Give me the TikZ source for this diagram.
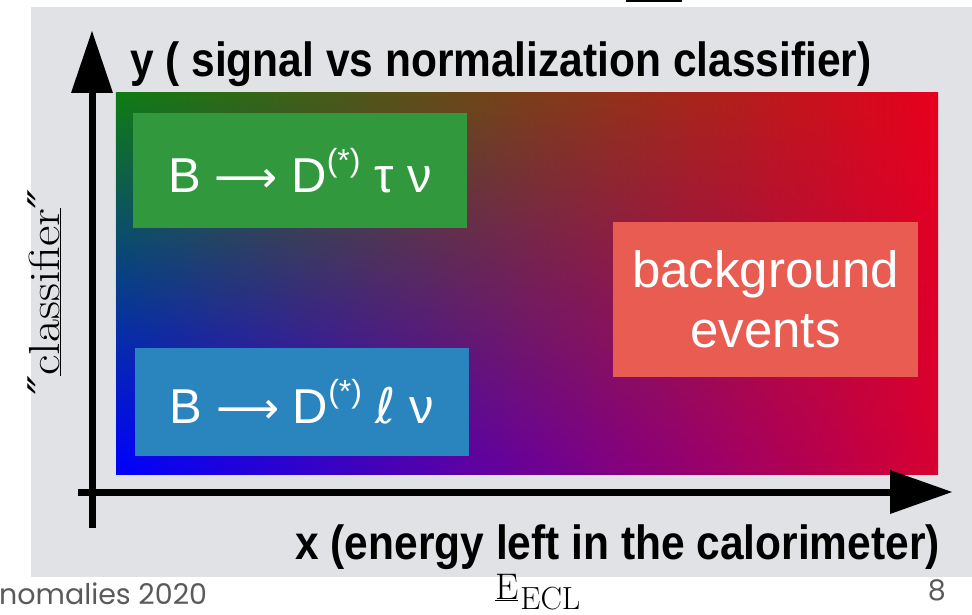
\documentclass[tikz,border=0pt]{standalone}
\usepackage{fontspec}
\usetikzlibrary{fadings}
\newfontfamily\arialf{Liberation Sans}
\newfontfamily\djv{DejaVu Sans}
\newfontfamily\djvserif{DejaVu Serif}
\newfontfamily\gothic{Poppins}
\definecolor{panel}{RGB}{225,226,229}
\definecolor{gTL}{RGB}{15,125,20}
\definecolor{gBL}{RGB}{0,0,255}
\definecolor{gTR}{RGB}{232,0,30}
\definecolor{gBR}{RGB}{215,0,50}
\definecolor{boxgreen}{RGB}{50,152,62}
\definecolor{boxblue}{RGB}{42,132,190}
\definecolor{boxred}{RGB}{232,92,82}
\definecolor{footgray}{RGB}{90,90,90}
\tikzset{
  axisline/.style={line width=7pt},
  axishead/.style={fill=black},
  axislabel/.style={font=\arialf\bfseries\fontsize{48}{58}\selectfont, xscale=0.885, inner sep=0pt},
  evbox/.style={minimum width=#1, inner sep=0pt, text=white, font=\arialf\fontsize{49}{60}\selectfont, align=center},
  foot/.style={text=footgray, inner sep=0pt}
}
\begin{document}
\begin{tikzpicture}[x=1pt,y=-1pt]
\useasboundingbox (0,0) rectangle (972,615);
% panel
\fill[panel] (31,7) rectangle (972,577);
% top underline fragment
\draw[line width=2pt] (626,1) -- (682,1);
% gradient field
\shade[left color=gBL, right color=gBR] (116,93) rectangle (938,474);
\shade[left color=gTL, right color=gTR, path fading=south] (116,93) rectangle (938,474);
% boxes
\node[evbox=334pt, minimum height=115pt, fill=boxgreen] (tau) at (300,170.5)
  {B {\djv\fontsize{44}{44}\selectfont ⟶} D\raisebox{0.42em}{\fontsize{32}{32}\selectfont(*)} τ ν};
\node[evbox=334pt, minimum height=108pt, fill=boxblue] (ell) at (302,402)
  {B {\djv\fontsize{44}{44}\selectfont ⟶} D\raisebox{0.42em}{\fontsize{32}{32}\selectfont(*)} {\djv ℓ} ν};
\node[evbox=305pt, minimum height=155pt, fill=boxred, font=\arialf\fontsize{51}{60}\selectfont] (bkg) at (765.5,299.5)
  {background\\events};
% axes
\coordinate (ybot) at (92,528);
\coordinate (ybase) at (92,93);
\coordinate (ytip) at (92,31);
\coordinate (xleft) at (78,492);
\coordinate (xbase) at (890,492);
\coordinate (xtip) at (952,492);
\draw[axisline] (ybot) -- (ybase);
\fill[axishead] (ytip) -- (71,93) -- (113,93) -- cycle;
\draw[axisline] (xleft) -- (xbase);
\fill[axishead] (xtip) -- (890,470) -- (890,514) -- cycle;
% labels
\node[axislabel, anchor=base west] (ylab) at (130,77) {y ( signal vs normalization classifier)};
\node[axislabel, anchor=base east] (xlab) at (940,559) {x (energy left in the calorimeter)};
\node[rotate=90, anchor=base, inner sep=0pt, font=\fontsize{50}{56}\selectfont] (clf) at (59,292)
  {\scalebox{1}[0.87]{{\djvserif\itshape\fontsize{50}{50}\selectfont ″}\underline{classifier}{\djvserif\itshape\fontsize{50}{50}\selectfont ″}}};
% footer
\node[foot, anchor=base west, font=\gothic\fontsize{28.5}{30}\selectfont] (conf) at (-1,604) {nomalies 2020};
\node[foot, anchor=base east, font=\gothic\fontsize{28.5}{30}\selectfont] (page) at (946,600) {8};
\node[anchor=base west, inner sep=0pt, font=\fontsize{37}{40}\selectfont] (eecl) at (495,599)
  {\underline{E}\kern2pt\raisebox{-10pt}{\fontsize{32}{32}\selectfont ECL}};
\end{tikzpicture}
\end{document}
